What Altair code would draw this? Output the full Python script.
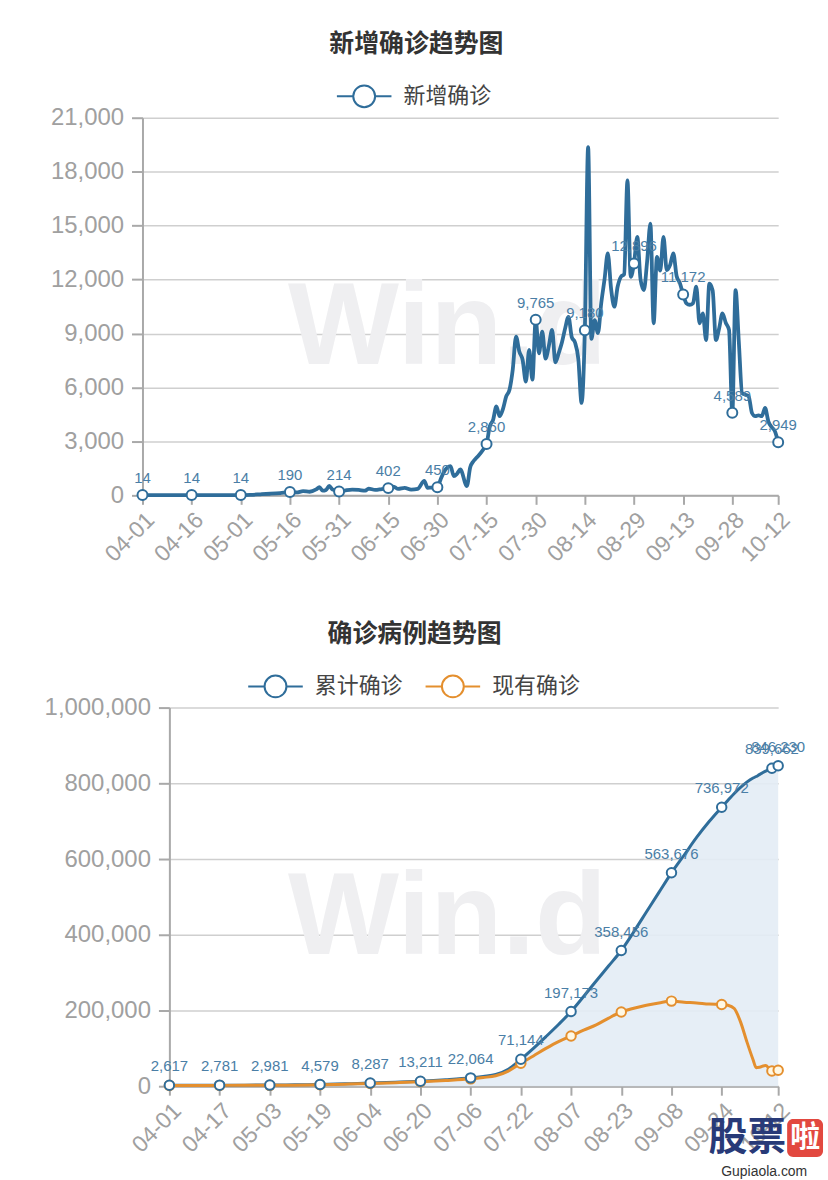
import altair as alt
import pandas as pd

# ---------------- data: top chart (新增确诊) ----------------
# day offsets counted from 04-01 (2020)
top_days = [0, 5, 10, 15, 20, 25, 30, 33, 36, 39, 42, 45, 47, 49, 51, 53, 54, 55, 56, 57,
            58, 59, 60, 62, 64, 66, 68, 69, 71, 73, 75, 76, 77, 78, 80, 82, 84, 86, 87, 88,
            90, 91, 92, 94, 95, 96, 97, 99, 100, 101, 102, 104, 105, 106, 107, 108, 109, 110, 111, 112,
            113, 114, 115, 116, 117, 118, 119, 120, 121, 122, 123, 124, 125, 126, 127, 128, 129, 130, 131, 132,
            133, 134, 135, 136, 137, 138, 139, 140, 141, 142, 143, 144, 145, 146, 147, 148, 149, 150, 151, 152,
            153, 154, 155, 156, 157, 158, 159, 160, 161, 162, 163, 164, 165, 166, 167, 168, 169, 170, 171, 172,
            173, 174, 175, 176, 177, 178, 179, 180, 181, 182, 183, 184, 185, 186, 187, 188, 189, 190, 191, 192,
            193, 194]
top_values = [14, 14, 14, 14, 14, 14, 14, 30, 60, 90, 130, 190, 160, 230, 200, 330, 450, 260, 300, 520,
              320, 280, 214, 280, 320, 300, 260, 380, 300, 350, 402, 500, 450, 360, 420, 320, 360, 800, 420, 430,
              450, 900, 1300, 1620, 1070, 1200, 1440, 515, 1550, 1900, 2100, 2550, 2860, 3840, 4200, 4950, 4400, 4800, 5500, 5870,
              7000, 8830, 8000, 7540, 6330, 8090, 6430, 9765, 7900, 9100, 7600, 8300, 9200, 7400, 7900, 8500, 9300, 9930, 8800, 8500,
              7600, 5140, 9180, 19360, 8700, 9750, 9020, 10680, 12000, 13450, 11500, 10490, 11600, 12150, 12300, 17510, 12150, 12896, 14370, 12000,
              11410, 13000, 15110, 9570, 13260, 12500, 14370, 12520, 12800, 13450, 12200, 11800, 11172, 10680, 10600, 10680, 11600, 9570, 10120, 8640,
              11780, 11400, 8640, 9300, 10120, 9600, 9200, 4589, 11410, 8500, 5690, 5600, 5500, 4580, 4400, 4450, 4400, 4860, 4120, 3800,
              3560, 2949]
top_label_days = [0, 15, 30, 45, 60, 75, 90, 105, 120, 135, 150, 165, 180, 194]
top_tick_days = [0, 15, 30, 45, 60, 75, 90, 105, 120, 135, 150, 165, 180, 194]
top_y_ticks = [0, 3000, 6000, 9000, 12000, 15000, 18000, 21000]

# ---------------- data: bottom chart (累计确诊 / 现有确诊) ----------------
bottom_days = [0, 8, 16, 24, 32, 40, 48, 56, 64, 72, 80, 88, 96, 100, 104, 108, 112, 116, 120, 124,
               128, 132, 136, 140, 144, 148, 152, 156, 160, 164, 168, 172, 176, 178, 180, 182, 184, 186, 187, 188,
               190, 192, 194]
cumulative = [2617, 2700, 2781, 2870, 2981, 3600, 4579, 6300, 8287, 10500, 13211, 17000, 22064, 26000, 31000, 45000, 71144, 100000, 131000, 163000,
              197173, 237000, 278000, 318000, 358456, 408000, 460000, 512000, 563676, 610000, 657000, 699000, 736972, 755000, 773000, 789000, 803000, 814000, 818000, 823000,
              832000, 839662, 846230]
current = [2100, 2150, 2200, 2250, 2300, 2800, 3800, 5400, 7300, 9300, 11800, 15200, 19500, 23000, 27500, 40000, 60600, 80000, 100000, 118000,
           132600, 148000, 162000, 180000, 196000, 206000, 214000, 220000, 224800, 222000, 220000, 217000, 216000, 214000, 205000, 170000, 118000, 70000, 49000, 50000,
           55000, 40000, 42000]
bottom_label_days = [0, 16, 32, 48, 64, 80, 96, 112, 128, 144, 160, 176, 192, 194]
bottom_tick_days = [0, 16, 32, 48, 64, 80, 96, 112, 128, 144, 160, 176, 194]
bottom_y_ticks = [0, 200000, 400000, 600000, 800000, 1000000]

BLUE = "#2f6d9a"
ORANGE = "#e48f2e"
LABEL_BLUE = "#4a7ea6"
AXIS_GREY = "#a9a9a9"
LABEL_GREY = "#a0a0a0"
CJK = "Noto Sans CJK SC"
LATIN = "Liberation Sans"
LEGEND_PATH = ("M-1,0L-0.42,0M0.42,0L1,0"
               "M-0.4,0A0.4,0.4 0 1,0 0.4,0A0.4,0.4 0 1,0 -0.4,0Z")
DATE_EXPR = "timeFormat(datetime(2020, 3, 1 + datum.value), '%m-%d')"
NUM_EXPR = "format(datum.value, ',')"

W, H1, H2 = 638, 379, 380
SHIFT = 27   # bottom plot starts 27px to the right of the top plot

top_df = pd.DataFrame({"day": top_days, "value": top_values, "series": "新增确诊"})
top_lab = top_df[top_df["day"].isin(top_label_days)]


def x_axis(values):
    return alt.Axis(values=values, labelExpr=DATE_EXPR, labelAngle=-45, labelFontSize=23,
                    labelColor=LABEL_GREY, labelFont=LATIN, grid=False, tickSize=9,
                    tickColor=AXIS_GREY, tickWidth=2, domainColor=AXIS_GREY, domainWidth=2,
                    labelPadding=4, labelOverlap=False, title=None)


def y_axis(values, **kw):
    return alt.Axis(values=values, labelExpr=NUM_EXPR, labelFontSize=24, labelColor=LABEL_GREY,
                    labelFont=LATIN, tickSize=11, tickColor=AXIS_GREY, tickWidth=2,
                    domainColor=AXIS_GREY, domainWidth=2, labelPadding=8, gridColor="#cfcfcf",
                    gridWidth=1.5, labelOverlap=False, title=None, **kw)


def legend(x, y):
    return alt.Legend(orient="none", legendX=x, legendY=y, direction="horizontal", title=None,
                      symbolType=LEGEND_PATH, symbolSize=3000, symbolStrokeWidth=2,
                      symbolFillColor="white", labelFontSize=22, labelColor="#444444",
                      labelFont=CJK, labelOffset=11, columnPadding=18)


x1 = alt.X("day:Q", scale=alt.Scale(domain=[0, 194], nice=False, zero=False), axis=x_axis(top_tick_days))
y1 = alt.Y("value:Q", scale=alt.Scale(domain=[0, 21000], nice=False), axis=y_axis(top_y_ticks, minExtent=123))

wm1 = alt.Chart(pd.DataFrame({"t": ["Win.d"]})).mark_text(
    fontSize=118, fontWeight="bold", font=LATIN, color="#efeff1"
).encode(x=alt.value(306), y=alt.value(212), text="t:N")

line1 = alt.Chart(top_df).mark_line(strokeWidth=3.8, interpolate="monotone").encode(
    color=alt.Color("series:N", scale=alt.Scale(domain=["新增确诊"], range=[BLUE]), legend=legend(194, -50)),
)
pts1 = alt.Chart(top_lab).mark_point(shape="circle", filled=True, fill="white", stroke=BLUE,
                                     strokeWidth=2, size=100, opacity=1)
txt1 = alt.Chart(top_lab).mark_text(dy=-17, fontSize=15, color=LABEL_BLUE, font=LATIN).encode(
    text=alt.Text("value:Q", format=","))

top = alt.layer(line1, pts1, txt1).encode(x=x1, y=y1)
top = alt.layer(wm1, top).properties(
    width=W, height=H1,
    title=alt.Title("新增确诊趋势图", fontSize=25, fontWeight="bold", color="#333333", font=CJK,
                    anchor="middle", frame="bounds", offset=11, dx=8),
)

# ---------------- bottom ----------------
bot_df = pd.concat([
    pd.DataFrame({"day": bottom_days, "value": cumulative, "series": "累计确诊"}),
    pd.DataFrame({"day": bottom_days, "value": current, "series": "现有确诊"}),
])
cum_df = bot_df[bot_df["series"] == "累计确诊"]
cur_df = bot_df[bot_df["series"] == "现有确诊"]
cum_lab = cum_df[cum_df["day"].isin(bottom_label_days)]
cur_lab = cur_df[cur_df["day"].isin(bottom_label_days)]

x2 = alt.X("day:Q", scale=alt.Scale(domain=[0, 194], range=[SHIFT, W], nice=False, zero=False),
           axis=x_axis(bottom_tick_days))
y2 = alt.Y("value:Q", scale=alt.Scale(domain=[0, 1000000], nice=False),
           axis=y_axis(bottom_y_ticks, offset=-SHIFT))

wm2 = alt.Chart(pd.DataFrame({"t": ["Win.d"]})).mark_text(
    fontSize=118, fontWeight="bold", font=LATIN, color="#efeff1"
).encode(x=alt.value(306), y=alt.value(212), text="t:N")
area2 = alt.Chart(cum_df).mark_area(color="#e3ecf5", opacity=0.9, interpolate="monotone")
lines2 = alt.Chart(bot_df).mark_line(strokeWidth=3, interpolate="monotone").encode(
    color=alt.Color("series:N", scale=alt.Scale(domain=["累计确诊", "现有确诊"], range=[BLUE, ORANGE]),
                    legend=legend(105, -50)),
)
pts_cur = alt.Chart(cur_lab).mark_point(shape="circle", filled=True, fill="#fff8e4", stroke=ORANGE,
                                        strokeWidth=2, size=90, opacity=1)
pts_cum = alt.Chart(cum_lab).mark_point(shape="circle", filled=True, fill="white", stroke=BLUE,
                                        strokeWidth=2, size=90, opacity=1)
txt2 = alt.Chart(cum_lab).mark_text(dy=-19, fontSize=15, color=LABEL_BLUE, font=LATIN).encode(
    text=alt.Text("value:Q", format=","))

data_layers = alt.layer(area2, lines2, pts_cur, pts_cum, txt2).encode(x=x2, y=y2)

brand1 = alt.Chart(pd.DataFrame({"t": ["股票"]})).mark_text(
    fontSize=39, fontWeight="bold", font=CJK, color="#283a78").encode(
    x=alt.value(607), y=alt.value(432), text="t:N")
brand_box = alt.Chart(pd.DataFrame({"t": ["啦"]})).mark_rect(color="#e2483f", cornerRadius=6).encode(
    x=alt.value(647), x2=alt.value(683), y=alt.value(413), y2=alt.value(451))
brand2 = alt.Chart(pd.DataFrame({"t": ["啦"]})).mark_text(
    fontSize=30, fontWeight="bold", font=CJK, color="white").encode(
    x=alt.value(665), y=alt.value(432), text="t:N")
brand3 = alt.Chart(pd.DataFrame({"t": ["Gupiaola.com"]})).mark_text(
    fontSize=14, font=LATIN, color="#333333").encode(
    x=alt.value(624), y=alt.value(466), text="t:N")

bottom = alt.layer(wm2, data_layers, brand1, brand_box, brand2, brand3).properties(
    width=W, height=H2,
    title=alt.Title("确诊病例趋势图", fontSize=25, fontWeight="bold", color="#333333", font=CJK,
                    anchor="middle", frame="bounds", offset=11, dx=-19),
)

chart = alt.vconcat(top, bottom, spacing=56).resolve_scale(
    color="independent", x="independent", y="independent"
).resolve_legend(color="independent").properties(
    padding={"left": 20, "top": 30, "right": 5, "bottom": 5},
    background="white",
).configure_view(stroke=None)

chart.save("out.html", embed_options={"renderer": "svg", "actions": False})
